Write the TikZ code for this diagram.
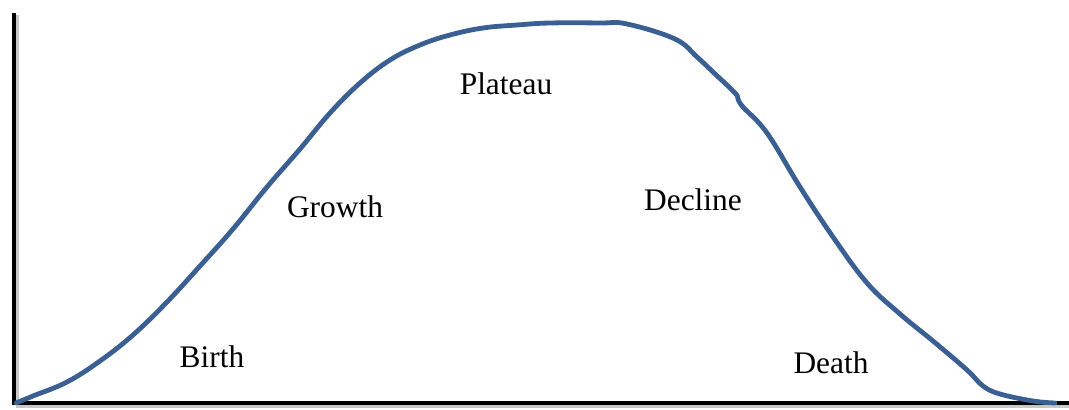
\documentclass[tikz,border=0pt]{standalone}
\usepackage{fontspec}
\setmainfont{Liberation Serif}
\definecolor{curveblue}{HTML}{3A5F92}
\definecolor{axisgrey}{HTML}{C8C8C8}

\begin{document}
\begin{tikzpicture}[x=0.5pt,y=-0.5pt,
    stage/.style={font=\fontsize{15.7}{18}\selectfont,inner sep=0pt},
    axis/.style={black,line width=2pt},
    life/.style={curveblue,line width=2.4pt,line cap=round,line join=round}]
  \useasboundingbox (0,0) rectangle (1069,410);
  % axes with a faint shadow
  \draw[axisgrey,line width=1.5pt] (17,15)--(17,407)--(1069,407);
  \draw[axis] (14,13)--(14,403)--(1069,403);
  % life cycle curve
  \draw[life] plot[smooth,tension=0.65] coordinates {
    (16,403) (33,396) (67,382) (100,361) (133,335) (167,302) (200,266)
    (233,229) (267,187) (300,149) (330,113) (360,83) (390,60) (420,45)
    (450,35) (483,28) (517,25) (550,23) (600,23) (627,24) (675,39)
    (697,57) (713,72) (735,93) (738,99) (743,107) (767,133) (800,187)
    (833,237) (867,283) (900,314) (933,341) (967,370) (983,386)
    (1000,394) (1033,401) (1055,403)};
  % stage labels
  \node[stage] (birth) at (212,357) {Birth};
  \node[stage] (growth) at (335,207) {Growth};
  \node[stage] (plateau) at (506,84) {Plateau};
  \node[stage] (decline) at (693,200) {Decline};
  \node[stage] (death) at (831,363) {Death};
\end{tikzpicture}
\end{document}
